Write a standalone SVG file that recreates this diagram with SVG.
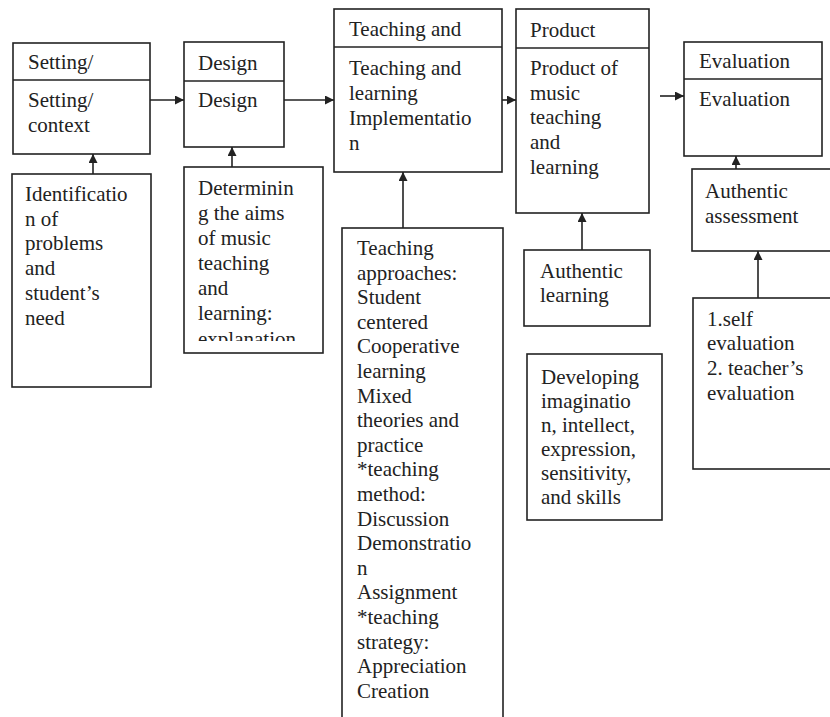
<svg xmlns="http://www.w3.org/2000/svg" width="830" height="717" viewBox="0 0 830 717">
<style>
.bx{fill:#fff;stroke:#222;stroke-width:1.6}
.ln{fill:none;stroke:#222;stroke-width:1.6}
text{font-family:"Liberation Serif","Times New Roman",serif;font-size:21px;fill:#222}
</style>
<defs>
<marker id="ah" viewBox="0 0 10 10" refX="10" refY="5" markerWidth="9" markerHeight="9" markerUnits="userSpaceOnUse" orient="auto">
<path d="M0,0 L10,5 L0,10 z" fill="#222"/>
</marker>
<clipPath id="clipDet"><rect x="184" y="167" width="139" height="174"/></clipPath>
</defs>
<rect width="830" height="717" fill="#fff"/>

<g id="setting">
<rect class="bx" x="13" y="43" width="137" height="111"/>
<line class="ln" x1="13" y1="80" x2="150" y2="80"/>
<text x="28" y="69">Setting/</text>
<text x="28" y="107">Setting/</text>
<text x="28" y="132">context</text>
</g>

<g id="design">
<rect class="bx" x="184" y="42" width="100" height="105"/>
<line class="ln" x1="184" y1="81" x2="284" y2="81"/>
<text x="198" y="70">Design</text>
<text x="198" y="107">Design</text>
</g>

<g id="teaching">
<rect class="bx" x="334" y="9" width="168" height="163"/>
<line class="ln" x1="334" y1="47" x2="502" y2="47"/>
<text x="349" y="36">Teaching and</text>
<text x="349" y="75">Teaching and</text>
<text x="349" y="100">learning</text>
<text x="349" y="125">Implementatio</text>
<text x="349" y="150">n</text>
</g>

<g id="product">
<rect class="bx" x="516" y="9" width="133" height="204"/>
<line class="ln" x1="516" y1="48" x2="649" y2="48"/>
<text x="530" y="37">Product</text>
<text x="530" y="75">Product of</text>
<text x="530" y="100">music</text>
<text x="530" y="124">teaching</text>
<text x="530" y="149">and</text>
<text x="530" y="174">learning</text>
</g>

<g id="evaluation">
<rect class="bx" x="684" y="42" width="138" height="114"/>
<line class="ln" x1="684" y1="79" x2="822" y2="79"/>
<text x="699" y="68">Evaluation</text>
<text x="699" y="106">Evaluation</text>
</g>

<g id="identification">
<rect class="bx" x="12" y="174" width="139" height="213"/>
<text x="25" y="201">Identificatio</text>
<text x="25" y="226">n of</text>
<text x="25" y="250">problems</text>
<text x="25" y="275">and</text>
<text x="25" y="300">student’s</text>
<text x="25" y="325">need</text>
</g>

<g id="determining">
<rect class="bx" x="184" y="167" width="139" height="186"/>
<g clip-path="url(#clipDet)">
<text x="198" y="195">Determinin</text>
<text x="198" y="220">g the aims</text>
<text x="198" y="245">of music</text>
<text x="198" y="270">teaching</text>
<text x="198" y="295">and</text>
<text x="198" y="320">learning:</text>
<text x="198" y="346">explanation</text>
</g>
</g>

<g id="approaches">
<rect class="bx" x="342" y="228" width="161" height="500"/>
<text x="357" y="255">Teaching</text>
<text x="357" y="280">approaches:</text>
<text x="357" y="304">Student</text>
<text x="357" y="329">centered</text>
<text x="357" y="353">Cooperative</text>
<text x="357" y="378">learning</text>
<text x="357" y="403">Mixed</text>
<text x="357" y="427">theories and</text>
<text x="357" y="452">practice</text>
<text x="357" y="476">*teaching</text>
<text x="357" y="501">method:</text>
<text x="357" y="526">Discussion</text>
<text x="357" y="550">Demonstratio</text>
<text x="357" y="575">n</text>
<text x="357" y="599">Assignment</text>
<text x="357" y="624">*teaching</text>
<text x="357" y="649">strategy:</text>
<text x="357" y="673">Appreciation</text>
<text x="357" y="698">Creation</text>
</g>

<g id="authentic-learning">
<rect class="bx" x="524" y="250" width="126" height="76"/>
<text x="540" y="278">Authentic</text>
<text x="540" y="302">learning</text>
</g>

<g id="developing">
<rect class="bx" x="527" y="354" width="135" height="166"/>
<text x="541" y="384">Developing</text>
<text x="541" y="408">imaginatio</text>
<text x="541" y="432">n, intellect,</text>
<text x="541" y="456">expression,</text>
<text x="541" y="480">sensitivity,</text>
<text x="541" y="504">and skills</text>
</g>

<g id="authentic-assessment">
<rect class="bx" x="692" y="169" width="140" height="82"/>
<text x="705" y="198">Authentic</text>
<text x="705" y="223">assessment</text>
</g>

<g id="self-evaluation">
<rect class="bx" x="693" y="298" width="140" height="171"/>
<text x="707" y="326">1.self</text>
<text x="707" y="350">evaluation</text>
<text x="707" y="375">2. teacher’s</text>
<text x="707" y="400">evaluation</text>
</g>

<g id="connectors">
<line class="ln" x1="150" y1="100" x2="184" y2="100" marker-end="url(#ah)"/>
<line class="ln" x1="284" y1="100" x2="334" y2="100" marker-end="url(#ah)"/>
<line class="ln" x1="502" y1="100" x2="516" y2="100" marker-end="url(#ah)"/>
<line class="ln" x1="660" y1="96" x2="684" y2="96" marker-end="url(#ah)"/>
<line class="ln" x1="93" y1="174" x2="93" y2="154" marker-end="url(#ah)"/>
<line class="ln" x1="232" y1="167" x2="232" y2="147" marker-end="url(#ah)"/>
<line class="ln" x1="403" y1="228" x2="403" y2="172" marker-end="url(#ah)"/>
<line class="ln" x1="582" y1="250" x2="582" y2="213" marker-end="url(#ah)"/>
<line class="ln" x1="736" y1="169" x2="736" y2="156" marker-end="url(#ah)"/>
<line class="ln" x1="758" y1="298" x2="758" y2="251" marker-end="url(#ah)"/>
</g>
</svg>
